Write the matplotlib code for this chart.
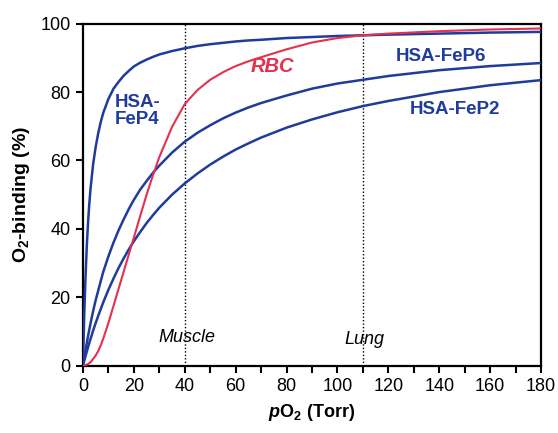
import numpy as np
import matplotlib
matplotlib.use("Agg")
import matplotlib.pyplot as plt

plt.rcParams['font.family'] = ['Liberation Sans', 'DejaVu Sans']
plt.rcParams['mathtext.fontset'] = 'custom'
plt.rcParams['mathtext.rm'] = 'Liberation Sans'
plt.rcParams['mathtext.bf'] = 'Liberation Sans:bold'
plt.rcParams['mathtext.it'] = 'Liberation Sans:bold:italic'

# pO2 (Torr) sample positions
po2 = [0, 0.5, 1, 1.5, 2, 2.5, 3, 4, 5, 6, 7, 8, 10, 12, 14, 16, 18, 20, 22.5, 25, 27.5, 30,
       35, 40, 45, 50, 55, 60, 65, 70, 80, 90, 100, 110, 120, 140, 160, 180]

# O2-binding (%)
fep4 = [0, 15, 26, 35, 42, 47.5, 52, 59, 64, 68, 71.3, 74, 78, 81, 83, 84.8, 86.2, 87.5, 88.6, 89.5, 90.3, 91,
        92, 92.8, 93.5, 94, 94.4, 94.8, 95.1, 95.3, 95.8, 96.1, 96.4, 96.6, 96.8, 97.1, 97.4, 97.6]
fep6 = [0, 2.3, 4.5, 6.6, 8.7, 10.6, 12.5, 16, 19.2, 22, 24.8, 27.5, 32, 36, 39.6, 42.8, 45.8, 48.5, 51.5, 54, 56.4, 58.5,
        62.3, 65.5, 68.1, 70.3, 72.3, 74, 75.5, 76.8, 79, 81, 82.5, 83.6, 84.7, 86.4, 87.6, 88.5]
fep2 = [0, 1.4, 2.8, 4.1, 5.4, 6.7, 7.9, 10.3, 12.5, 14.6, 16.6, 18.6, 22.2, 25.5, 28.6, 31.4, 34, 36.4, 39.1, 41.7, 44, 46.2,
        50, 53.3, 56.2, 58.8, 61.1, 63.2, 65, 66.7, 69.6, 72, 74.1, 75.9, 77.4, 80, 82, 83.5]
rbc = [0, 0.05, 0.2, 0.35, 0.5, 0.75, 1, 2, 3, 4.3, 6, 8, 12.5, 17.5, 22.5, 27.5, 32.5, 37.5, 43.8, 50, 55.7, 61,
       69.8, 76.5, 80.6, 83.6, 85.8, 87.6, 89, 90.2, 92.5, 94.5, 95.8, 96.6, 97.1, 97.8, 98.3, 98.6]

blue = '#1f3c9c'
red = '#e5304f'

fig = plt.figure(figsize=(5.58, 4.33), dpi=100)
ax = fig.add_axes([0.1487, 0.1554, 0.8208, 0.7899])

# tissue markers
for xv in [40, 110]:
    ax.plot([xv, xv], [0, 100], color='black', linestyle=(0, (1, 1.5)), linewidth=1.0, zorder=1)

ax.plot(po2, fep2, color=blue, linewidth=1.8, zorder=3)
ax.plot(po2, fep6, color=blue, linewidth=1.8, zorder=3)
ax.plot(po2, fep4, color=blue, linewidth=1.8, zorder=3)
ax.plot(po2, rbc, color=red, linewidth=1.5, zorder=4)

ax.text(21.4, 74.5, 'HSA-\nFeP4', color=blue, fontsize=13.5, fontweight='bold',
        ha='center', va='center', linespacing=1.0)
ax.text(74.5, 87.5, 'RBC', color=red, fontsize=14.5, fontweight='bold', style='italic',
        ha='center', va='center')
ax.text(140.5, 90.5, 'HSA-FeP6', color=blue, fontsize=13.5, fontweight='bold',
        ha='center', va='center')
ax.text(146, 74.8, 'HSA-FeP2', color=blue, fontsize=13.5, fontweight='bold',
        ha='center', va='center')
ax.text(41, 8.2, 'Muscle', fontsize=13, style='italic', ha='center', va='center')
ax.text(110.6, 7.6, 'Lung', fontsize=13, style='italic', ha='center', va='center')

ax.set_xlim(0, 180)
ax.set_ylim(0, 100)
ax.set_xticks(np.arange(0, 181, 20))
ax.set_xticks(np.arange(0, 181, 10), minor=True)
ax.set_yticks(np.arange(0, 101, 20))
ax.tick_params(axis='both', which='both', direction='out', length=5, width=1.5,
               labelsize=13, top=False, right=False)
ax.tick_params(axis='both', pad=4)
for sp in ax.spines.values():
    sp.set_linewidth(1.6)

ax.set_xlabel(r'$p\mathbf{O_2}$ (Torr)', fontsize=13, fontweight='bold', labelpad=5)
ax.set_ylabel(r'$\mathbf{O_2}$-binding (%)', fontsize=14, fontweight='bold', labelpad=6)

fig.savefig('out.png', dpi=100)
